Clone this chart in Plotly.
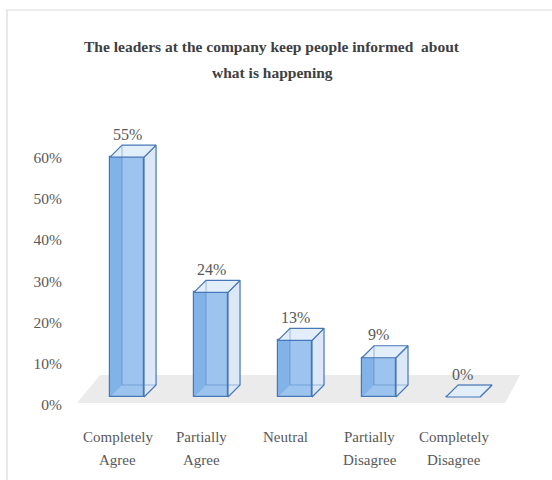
import plotly.graph_objects as go

# ---- data -------------------------------------------------------------
categories = ["Completely<br>Agree", "Partially<br>Agree", "Neutral",
              "Partially<br>Disagree", "Completely<br>Disagree"]
values = [55, 24, 13, 9, 0]
tick_values = [0, 10, 20, 30, 40, 50, 60]
tick_labels = ["0%", "10%", "20%", "30%", "40%", "50%", "60%"]
title_lines = ["The leaders at the company keep people informed  about",
               "what is happening"]

# ---- geometry of the pseudo-3D boxes (category / percent units) ---------
BAR_W = 0.405          # width of the front face
DX = 0.143             # depth offset along x
DY = 2.75              # depth offset along y (percent units)
X_RANGE = [-0.679, 4.798]
Y_RANGE = [-5.275, 63.53]        # front-face scale
Y2_RANGE = [-3.63, 69.0]         # back-wall scale used for the tick labels

# page layout (pixels)
W, H = 552, 480
ML, MR, MT, MB = 70, 22, 120, 60
PW, PH = W - ML - MR, H - MT - MB


def px_paper(px):
    return (px - ML) / PW


def py_paper(py):
    return (H - MB - py) / PH


SERIF = "Liberation Serif"
TXT = "#595959"
EDGE = "#4677b8"

fig = go.Figure()

# front faces
xs = list(range(len(values)))
fig.add_trace(go.Bar(
    x=xs, y=values, width=BAR_W,
    marker=dict(color="#9cc4ef", line=dict(color=EDGE, width=1.2)),
    hoverinfo="skip", showlegend=False,
))

# side, top and inner faces computed from the same values
side_x, side_y, top_x, top_y, inner_x, inner_y = [], [], [], [], [], []
back_x, back_y = [], []
for i, v in enumerate(values):
    L, R = i - BAR_W / 2, i + BAR_W / 2
    side_x += [R, R + DX, R + DX, R, R, None]
    side_y += [0, DY, v + DY, v, 0, None]
    top_x += [L, L + DX, R + DX, R, L, None]
    top_y += [v, v + DY, v + DY, v, v, None]
    inner_x += [L, L + DX, L + DX, L, L, None]
    inner_y += [0, DY, v + DY, v, 0, None]
    back_x += [L + DX, L + DX, None, L + DX, R + DX, None]
    back_y += [v + DY, DY, None, DY, DY, None]

fig.add_trace(go.Scatter(
    x=inner_x, y=inner_y, mode="lines", fill="toself",
    fillcolor="rgba(70,140,215,0.3)", line=dict(width=0),
    hoverinfo="skip", showlegend=False))
fig.add_trace(go.Scatter(
    x=side_x, y=side_y, mode="lines", fill="toself",
    fillcolor="#dce8f7", line=dict(color=EDGE, width=1.2),
    hoverinfo="skip", showlegend=False))
fig.add_trace(go.Scatter(
    x=top_x, y=top_y, mode="lines", fill="toself",
    fillcolor="#e3eefb", line=dict(color=EDGE, width=1.2),
    hoverinfo="skip", showlegend=False))
fig.add_trace(go.Scatter(
    x=back_x, y=back_y, mode="lines",
    line=dict(color="rgba(70,119,184,0.6)", width=0.8),
    hoverinfo="skip", showlegend=False))

# invisible trace carrying the back-wall tick scale
fig.add_trace(go.Scatter(x=[0], y=[0], yaxis="y2", mode="markers",
                         marker=dict(opacity=0), hoverinfo="skip",
                         showlegend=False))

# floor of the 3D scene
fig.add_shape(type="path", layer="below", xref="x", yref="y",
              path="M -0.595 -1.38 L -0.321 5.05 L 4.68 5.05 L 4.5 -1.38 Z",
              fillcolor="#ebebeb", line=dict(width=0))

# chart border
fig.add_shape(type="rect", xref="paper", yref="paper",
              x0=px_paper(7), x1=px_paper(600), y0=py_paper(10), y1=py_paper(520),
              line=dict(color="#d9d9d9", width=1.2), fillcolor="rgba(0,0,0,0)")

annotations = []
# title
for k, line in enumerate(title_lines):
    annotations.append(dict(
        text=line, xref="paper", yref="paper",
        x=px_paper(272), y=py_paper(46 + 26 * k), showarrow=False,
        xanchor="center", yanchor="middle",
        font=dict(family=SERIF, size=15.5, color="#404040", weight="bold")))

# value labels
for i, v in enumerate(values):
    annotations.append(dict(
        text=f"{v}%", x=i, y=v + DY, xref="x", yref="y", yshift=11,
        showarrow=False, xanchor="center", yanchor="middle",
        font=dict(family=SERIF, size=16, color=TXT)))

# category labels
for i, cat in enumerate(categories):
    for k, part in enumerate(cat.split("<br>")):
        annotations.append(dict(
            text=part, x=i - 0.11, xref="x", yref="paper",
            y=py_paper(437 + 23 * k), showarrow=False,
            xanchor="center", yanchor="middle",
            font=dict(family=SERIF, size=15, color=TXT)))

fig.update_layout(
    width=W, height=H,
    margin=dict(l=ML, r=MR, t=MT, b=MB),
    paper_bgcolor="white", plot_bgcolor="rgba(0,0,0,0)",
    bargap=0,
    xaxis=dict(range=X_RANGE, visible=False, fixedrange=True),
    yaxis=dict(range=Y_RANGE, visible=False, fixedrange=True),
    yaxis2=dict(range=Y2_RANGE, overlaying="y", side="left",
                tickvals=tick_values, ticktext=tick_labels,
                showgrid=False, zeroline=False, showline=False, ticks="",
                ticklabelstandoff=7,
                tickfont=dict(family=SERIF, size=15.5, color=TXT),
                fixedrange=True),
    annotations=annotations,
    showlegend=False,
)

fig.write_html("out.html")
